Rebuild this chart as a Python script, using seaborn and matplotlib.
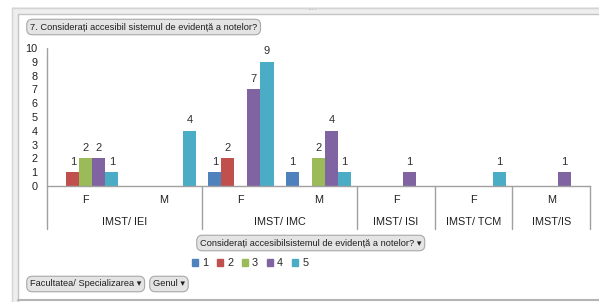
import matplotlib
matplotlib.use("Agg")
import matplotlib.pyplot as plt
import matplotlib.transforms as mtrans
from matplotlib.patches import Patch, Rectangle
from matplotlib.lines import Line2D
import seaborn as sns
import pandas as pd

# ---- data ----
groups = ["IMST/ IEI", "IMST/ IEI", "IMST/ IMC", "IMST/ IMC", "IMST/ ISI", "IMST/ TCM", "IMST/IS"]
genders = ["F", "M", "F", "M", "F", "F", "M"]
series_names = ["1", "2", "3", "4", "5"]
s1 = [0, 0, 1, 1, 0, 0, 0]
s2 = [1, 0, 2, 0, 0, 0, 0]
s3 = [2, 0, 0, 2, 0, 0, 0]
s4 = [2, 0, 7, 4, 1, 0, 1]
s5 = [1, 4, 9, 1, 0, 1, 0]
yticks = list(range(0, 11))
title = "7. Considerați accesibil sistemul de evidență a notelor?"
legend_title = "Considerați accesibilsistemul de evidență a notelor?"
field_buttons = ["Facultatea/ Specializarea", "Genul"]

colors = ["#4F81BD", "#C0504D", "#9BBB59", "#8064A2", "#4BACC6"]

order = [f"{g}|{ge}" for g, ge in zip(groups, genders)]
rows = []
for name, vals in zip(series_names, [s1, s2, s3, s4, s5]):
    for cat, v in zip(order, vals):
        rows.append({"cat": cat, "series": name, "value": v})
df = pd.DataFrame(rows)

sns.set_theme(style="white")
plt.rcParams['font.family'] = ['Liberation Sans', 'DejaVu Sans']

W, H = 599, 302
fig = plt.figure(figsize=(W / 100, H / 100), dpi=100)
fig.patch.set_facecolor("white")
ax = fig.add_axes([47 / W, 1 - 186 / H, (590 - 47) / W, (186 - 48) / H])

sns.barplot(data=df, x="cat", y="value", hue="series", order=order,
            hue_order=series_names, palette=colors, width=0.84, ax=ax,
            legend=False, errorbar=None, saturation=1, linewidth=0)

for cont in ax.containers:
    labels = [str(int(v)) if v > 0 else "" for v in cont.datavalues]
    ax.bar_label(cont, labels=labels, padding=4, fontsize=8, color="#303030")

ax.set_ylim(0, 10)
ax.set_xlim(-0.5, len(order) - 0.5)
ax.set_yticks(yticks)
ax.set_yticklabels([str(t) for t in yticks], fontsize=7.8, color="#202020")
ax.tick_params(axis="y", length=0, pad=7)
ax.set_xticks([])
ax.set_xlabel("")
ax.set_ylabel("")
for s in ["top", "right", "left"]:
    ax.spines[s].set_visible(False)
ax.spines["bottom"].set_color("#A0A0A0")
ax.spines["bottom"].set_linewidth(1.0)

tr = mtrans.blended_transform_factory(ax.transData, ax.transAxes)
low = (186 - 229) / (186 - 48)
# group separators
bounds = [-0.5]
for i in range(1, len(groups)):
    if groups[i] != groups[i - 1]:
        bounds.append(i - 0.5)
bounds.append(len(groups) - 0.5)
for b in bounds:
    top = 1.0 if b == -0.5 else 0.0
    ax.plot([b, b], [low, top], transform=tr, color="#A0A0A0", lw=1.0, clip_on=False)

# category labels
y_gender = (186 - 200) / (186 - 48)
y_group = (186 - 222) / (186 - 48)
for i, ge in enumerate(genders):
    ax.text(i, y_gender, ge, transform=tr, ha="center", va="center", fontsize=7.8, color="#202020")
for a, b in zip(bounds[:-1], bounds[1:]):
    ax.text((a + b) / 2, y_group, groups[int(a + 0.5)], transform=tr, ha="center",
            va="center", fontsize=7.8, color="#202020")

# buttons
def button(x, y, text):
    fig.text(x / W, 1 - y / H, text, ha="left", va="center", fontsize=6.7, color="#202020",
             bbox=dict(boxstyle="round,pad=0.35,rounding_size=0.6", fc="#E4E4E4", ec="#A8A8A8", lw=0.8))

button(30, 27, title)
button(200, 243, legend_title + " ▾")
button(30, 284, field_buttons[0] + " ▾")
button(153, 284, field_buttons[1] + " ▾")

# legend
handles = [Patch(color=c) for c in colors]
fig.legend(handles=handles, labels=series_names, ncol=5, loc="center",
           bbox_to_anchor=(250 / W, 1 - 263 / H), frameon=False, handlelength=0.6,
           handleheight=0.6, handletextpad=0.35, columnspacing=0.8, fontsize=7.8)

# chart frame (spreadsheet edges)
def px_rect(x0, y0, x1, y1, fc):
    fig.patches.append(Rectangle((x0 / W, 1 - y1 / H), (x1 - x0) / W, (y1 - y0) / H,
                                 transform=fig.transFigure, fc=fc, ec="none"))

def px_line(x0, y0, x1, y1, c, lw=1.0):
    fig.lines.append(Line2D([x0 / W, x1 / W], [1 - y0 / H, 1 - y1 / H],
                            transform=fig.transFigure, color=c, lw=lw))

px_rect(12, 7, W, 14, "#EEEEEE")
px_rect(12, 7, 18, H, "#EEEEEE")
px_line(12, 7.5, W, 7.5, "#D4D4D4")
px_line(18, 13.5, W, 13.5, "#C4C4C4")
px_line(12, 7.5, 12, H, "#D4D4D4")
px_line(17.5, 13.5, 17.5, H, "#C4C4C4")
px_line(18, 300, W, 300, "#B4B4B4", lw=1.5)
fig.text(312 / W, 1 - 10.5 / H, "∙∙∙∙", ha="center", va="center", fontsize=6, color="#B0B0B0")

fig.savefig("out.png", dpi=100)
